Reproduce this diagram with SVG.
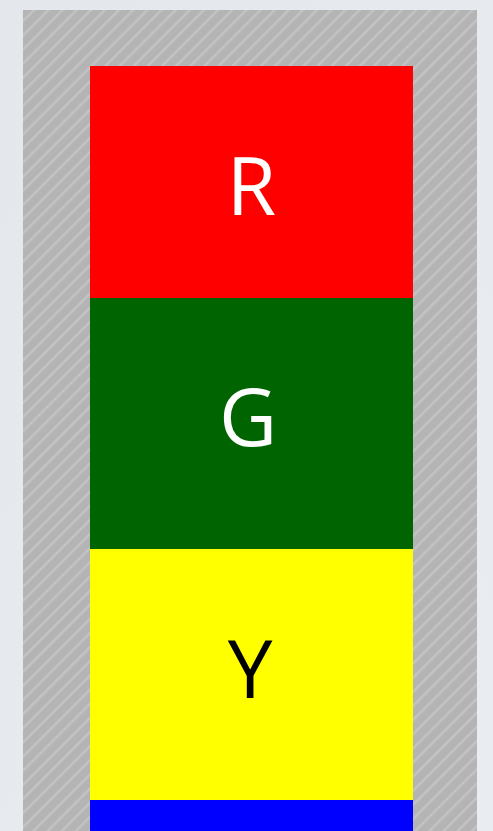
<svg xmlns="http://www.w3.org/2000/svg" width="493" height="831" viewBox="0 0 493 831">
<defs>
<linearGradient id="bg" x1="0" y1="0" x2="1" y2="1">
<stop offset="0" stop-color="#e4e7eb"/>
<stop offset="1" stop-color="#e9edf1"/>
</linearGradient>
<pattern id="hatch" patternUnits="userSpaceOnUse" width="10" height="10" patternTransform="rotate(45)">
<rect width="10" height="10" fill="#b4b4b4"/>
<rect x="0" y="0" width="2.5" height="10" fill="#c3c3c3"/>
</pattern>
<style>
.lbl{font-family:"Open Sans","DejaVu Sans",sans-serif;font-size:80px;text-anchor:middle}
</style>
</defs>
<rect width="493" height="831" fill="url(#bg)"/>
<rect x="23" y="10" width="454" height="821" fill="url(#hatch)"/>
<g id="R">
<rect x="90" y="66" width="323" height="232" fill="#ff0000"/>
<text class="lbl" x="251.5" y="215" fill="#ffffff">R</text>
</g>
<g id="G">
<rect x="90" y="298" width="323" height="251" fill="#006400"/>
<text class="lbl" x="248" y="446" fill="#ffffff">G</text>
</g>
<g id="Y">
<rect x="90" y="549" width="323" height="251" fill="#ffff00"/>
<text class="lbl" x="250" y="698" fill="#000000">Y</text>
</g>
<g id="B">
<rect x="90" y="800" width="323" height="31" fill="#0000ff"/>
</g>
<g id="connectors"/>
</svg>
